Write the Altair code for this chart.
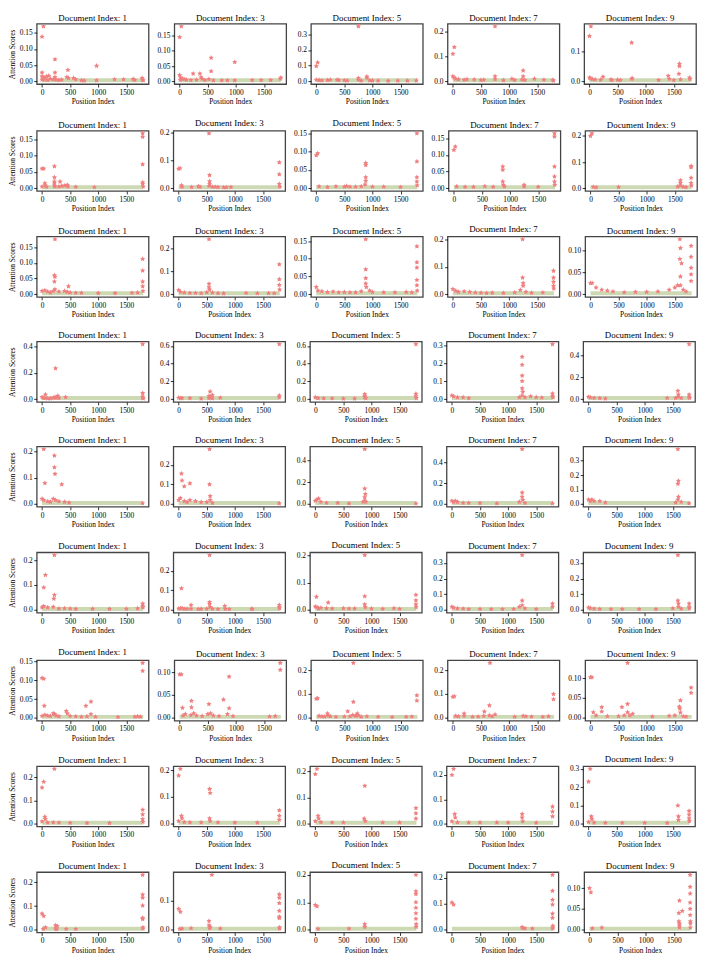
import altair as alt
import pandas as pd

FONT = "Liberation Serif"
DOC_IDS = [1, 3, 5, 7, 9]
X_TICKS = [0, 500, 1000, 1500]
X_DOMAIN = [-95, 1895]
BAND_X = [0, 1800]
RED = "#f08080"
GREEN = "#cdd9b3"

# ---- row 1 ----
R1C1 = [(0, .138), (25, .17), (0, .027), (230, .068), (230, .027), (460, .035), (970, .048), (230, .013), (0, .015),
        (20, .012), (50, .01), (80, .015), (120, .017), (150, .008), (200, .006), (300, .004), (350, .005), (440, .013),
        (470, .01), (560, .01), (600, .006), (700, .003), (750, .002), (970, .003), (1290, .006), (1450, .006),
        (1620, .007), (1650, .004), (1780, .01), (1790, .005), (1800, .003), (0, .005), (40, .005), (100, .004), (250, .005)]
R1C2 = [(0, .145), (30, .18), (560, .077), (560, .033), (980, .063), (240, .025), (360, .025), (380, .013), (0, .02),
        (20, .012), (50, .008), (80, .007), (120, .005), (200, .004), (300, .005), (400, .008), (450, .004), (520, .007),
        (600, .003), (750, .003), (850, .003), (980, .003), (1290, .004), (1450, .004), (1620, .004), (1790, .008),
        (1800, .012), (10, .005)]
R1C3 = [(0, .097), (25, .12), (750, .35), (900, .03), (900, .022), (750, .02), (0, .01), (50, .008), (100, .006),
        (200, .008), (250, .01), (370, .01), (400, .007), (500, .006), (550, .005), (750, .01), (800, .005), (1000, .005),
        (1100, .004), (1280, .003), (1450, .004), (1620, .004), (1780, .005), (950, .006)]
R1C4 = [(0, .11), (25, .137), (750, .22), (750, .02), (1250, .043), (1250, .02), (0, .02), (20, .015), (50, .01),
        (100, .008), (200, .006), (250, .008), (380, .007), (500, .005), (550, .006), (750, .008), (900, .004),
        (1050, .01), (1100, .005), (1230, .007), (1280, .005), (1450, .01), (1620, .006), (1780, .005), (1790, .003)]
R1C5 = [(0, .15), (25, .182), (750, .128), (1600, .058), (1600, .05), (1590, .025), (1400, .018), (240, .015),
        (0, .012), (20, .01), (50, .007), (100, .006), (200, .005), (380, .006), (400, .004), (500, .005), (550, .004),
        (750, .008), (760, .01), (1230, .004), (1420, .008), (1500, .004), (1620, .006), (1780, .012), (1790, .007)]
# ---- row 2 ----
R2C1 = [(0, .06), (30, .06), (220, .067), (220, .033), (220, .02), (220, .015), (320, .02), (50, .015), (60, .008),
        (0, .005), (80, .004), (220, .008), (300, .005), (350, .007), (400, .008), (450, .01), (460, .005), (600, .004),
        (930, .003), (1790, .168), (1790, .157), (1790, .073), (1790, .018), (1790, .013), (1800, .005), (230, .005)]
R2C2 = [(0, .07), (25, .072), (540, .198), (550, .047), (550, .025), (550, .015), (540, .008), (50, .01), (60, .005),
        (230, .004), (350, .007), (380, .005), (600, .005), (650, .005), (700, .004), (800, .003), (850, .003),
        (930, .004), (1790, .093), (1790, .05), (1790, .015), (1800, .005)]
R2C3 = [(0, .09), (25, .095), (880, .069), (880, .063), (880, .03), (880, .02), (870, .01), (1790, .15), (1790, .073),
        (1790, .03), (1790, .018), (1795, .008), (50, .005), (200, .003), (350, .005), (500, .004), (540, .006),
        (600, .004), (700, .004), (800, .005), (1000, .004), (1200, .004), (1500, .003)]
R2C4 = [(0, .115), (25, .125), (870, .065), (870, .055), (870, .02), (880, .01), (1790, .165), (1790, .155),
        (1790, .065), (1790, .035), (1790, .02), (1795, .01), (50, .005), (200, .004), (350, .004), (550, .006),
        (700, .004), (900, .005), (1250, .005), (1250, .01), (1500, .004)]
R2C5 = [(0, .2), (25, .21), (1600, .03), (1600, .02), (1600, .01), (1790, .085), (1790, .08), (1790, .04), (1790, .02),
        (1795, .01), (50, .005), (100, .003), (500, .004), (1550, .006), (1650, .005), (1700, .004)]
# ---- row 3 ----
R3C1 = [(230, .175), (220, .06), (230, .055), (220, .04), (230, .015), (470, .025), (1790, .112), (1790, .075),
        (1790, .04), (1790, .025), (1795, .01), (0, .01), (50, .012), (100, .008), (150, .005), (200, .01), (300, .008),
        (400, .01), (450, .007), (500, .005), (600, .004), (700, .004), (1000, .003), (1300, .003), (1600, .004), (1700, .005)]
R3C2 = [(540, .24), (540, .045), (540, .03), (550, .02), (1790, .13), (1790, .065), (1790, .04), (1795, .02), (0, .018),
        (30, .01), (100, .007), (200, .005), (300, .005), (400, .004), (500, .008), (600, .007), (700, .004), (800, .003),
        (1200, .005), (1400, .004), (1600, .004), (1700, .004)]
R3C3 = [(880, .155), (880, .07), (880, .045), (880, .03), (890, .02), (1790, .135), (1790, .09), (1790, .075),
        (1790, .04), (1790, .025), (1795, .01), (0, .02), (30, .01), (100, .008), (200, .006), (300, .007), (400, .005),
        (500, .006), (600, .005), (700, .005), (800, .008), (950, .01), (1000, .006), (1200, .005), (1400, .005),
        (1600, .006), (1700, .005)]
R3C4 = [(1240, .2), (1240, .06), (1250, .04), (1250, .03), (1790, .085), (1790, .06), (1790, .045), (1790, .03),
        (1795, .02), (0, .018), (50, .012), (100, .008), (200, .01), (300, .008), (400, .006), (500, .005), (600, .004),
        (700, .005), (900, .004), (1100, .006), (1200, .015), (1300, .008), (1400, .005), (1600, .006)]
R3C5 = [(1590, .125), (1600, .105), (1590, .08), (1620, .07), (1600, .04), (1790, .11), (1790, .085), (1790, .06),
        (1790, .045), (1790, .03), (0, .025), (30, .025), (100, .015), (200, .01), (300, .008), (400, .006), (600, .004),
        (800, .005), (1000, .005), (1200, .006), (1400, .01), (1500, .015), (1550, .02), (1600, .02), (1650, .01), (1700, .006)]
# ---- row 4 ----
R4C1 = [(1790, .42), (240, .235), (1790, .045), (1790, .02), (1795, .01), (60, .035), (280, .025), (420, .015),
        (0, .015), (20, .01), (50, .008), (100, .005), (150, .005), (200, .01), (230, .015), (250, .01), (300, .008), (1800, .005)]
R4C2 = [(1790, .62), (560, .085), (600, .045), (540, .035), (560, .02), (740, .015), (1790, .04), (1790, .02), (0, .015),
        (30, .01), (60, .01), (200, .01), (400, .005), (540, .01), (600, .008)]
R4C3 = [(1790, .62), (880, .055), (880, .035), (880, .02), (1790, .06), (1790, .03), (0, .02), (50, .01), (150, .008),
        (300, .008), (500, .005), (700, .006), (900, .01), (1800, .01)]
R4C4 = [(1790, .305), (1250, .235), (1250, .19), (1250, .13), (1250, .1), (1250, .06), (1260, .04), (1250, .02),
        (1400, .015), (1790, .03), (1790, .015), (0, .02), (30, .015), (100, .01), (200, .01), (300, .005), (1200, .01),
        (1300, .01), (1500, .01), (1600, .008), (1800, .01)]
R4C5 = [(1790, .5), (1590, .075), (1600, .04), (1590, .02), (1790, .04), (1790, .02), (0, .02), (30, .015), (100, .01),
        (200, .008), (300, .005), (1400, .01), (1550, .01), (1650, .01), (1800, .01)]
# ---- row 5 ----
R5C1 = [(30, .21), (220, .185), (220, .14), (230, .115), (50, .08), (350, .075), (0, .02), (30, .015), (100, .01),
        (150, .008), (200, .02), (240, .015), (300, .01), (400, .008), (480, .005), (1790, .003)]
R5C2 = [(550, .28), (50, .155), (60, .12), (200, .105), (100, .09), (550, .1), (560, .04), (0, .02), (30, .03),
        (100, .015), (150, .01), (200, .02), (300, .015), (400, .01), (500, .01), (560, .02), (600, .005), (1790, .003)]
R5C3 = [(880, .5), (880, .14), (890, .09), (880, .06), (880, .03), (0, .03), (30, .04), (60, .05), (100, .02),
        (200, .01), (400, .01), (600, .005), (850, .02), (900, .02), (1790, .005)]
R5C4 = [(1250, .53), (1250, .11), (1250, .07), (1260, .04), (0, .03), (30, .02), (60, .03), (100, .02), (200, .01),
        (300, .01), (500, .008), (800, .005), (1200, .02), (1300, .01), (1790, .005)]
R5C5 = [(1590, .38), (1600, .16), (1590, .14), (1600, .05), (1590, .03), (0, .03), (30, .02), (60, .03), (100, .02),
        (200, .02), (300, .01), (1550, .01), (1650, .015), (1790, .005)]
# ---- row 6 ----
R6C1 = [(220, .22), (60, .14), (30, .09), (220, .06), (210, .045), (0, .01), (30, .015), (100, .01), (200, .012),
        (300, .005), (400, .006), (500, .005), (600, .004), (900, .004), (1200, .004), (1500, .004), (1700, .006),
        (1790, .025), (1790, .015), (1795, .01)]
R6C2 = [(550, .28), (50, .11), (220, .025), (550, .04), (550, .03), (560, .015), (820, .02), (0, .007), (30, .008),
        (60, .01), (100, .005), (150, .006), (220, .006), (350, .004), (400, .005), (500, .006), (600, .006), (700, .004),
        (830, .005), (900, .004), (1300, .006), (1310, .004), (1790, .025), (1790, .015), (1795, .008)]
R6C3 = [(880, .2), (880, .05), (20, .048), (230, .027), (0, .012), (30, .01), (60, .005), (100, .008), (200, .006),
        (300, .005), (500, .006), (600, .005), (700, .005), (880, .02), (890, .01), (1000, .005), (1200, .004),
        (1400, .006), (1500, .004), (1790, .055), (1790, .035), (1790, .02), (1795, .01)]
R6C4 = [(1250, .35), (1250, .06), (1250, .03), (0, .02), (30, .015), (100, .01), (200, .008), (300, .005), (500, .006),
        (700, .005), (900, .005), (1100, .006), (1200, .02), (1300, .01), (1500, .005), (1790, .04), (1790, .02)]
R6C5 = [(1590, .35), (1590, .06), (1600, .04), (1600, .02), (0, .015), (30, .012), (100, .008), (200, .006),
        (400, .005), (600, .005), (900, .005), (1200, .005), (1500, .01), (1650, .008), (1790, .04), (1790, .02), (1795, .01)]
# ---- row 7 ----
R7C1 = [(0, .106), (30, .104), (40, .032), (780, .032), (870, .043), (870, .01), (430, .018), (450, .012), (1790, .146),
        (1790, .125), (0, .005), (50, .008), (100, .006), (150, .005), (200, .012), (220, .01), (250, .006), (300, .004),
        (500, .005), (600, .004), (700, .003), (800, .004), (950, .003), (1350, .002), (1650, .003), (1700, .004), (1750, .003)]
R7C2 = [(0, .095), (30, .095), (50, .022), (210, .037), (210, .023), (520, .03), (780, .04), (880, .09), (880, .021),
        (1790, .12), (1790, .105), (60, .005), (100, .008), (200, .006), (250, .01), (300, .005), (400, .004), (500, .008),
        (550, .01), (600, .005), (700, .004), (850, .008), (950, .004), (1600, .003), (1700, .004)]
R7C3 = [(0, .08), (25, .082), (660, .23), (660, .067), (560, .027), (730, .018), (200, .018), (50, .008), (100, .006),
        (150, .005), (210, .01), (250, .006), (350, .004), (500, .005), (600, .006), (650, .012), (700, .008), (750, .01),
        (800, .004), (900, .006), (1100, .004), (1350, .003), (1600, .004), (1700, .005), (1790, .094), (1790, .072)]
R7C4 = [(0, .088), (25, .09), (660, .23), (650, .052), (560, .026), (200, .018), (750, .014), (50, .008), (100, .006),
        (200, .008), (350, .004), (450, .005), (550, .008), (650, .01), (700, .006), (1100, .004), (1250, .008),
        (1300, .006), (1400, .005), (1600, .004), (1700, .006), (1790, .1), (1790, .078)]
R7C5 = [(0, .102), (25, .102), (660, .138), (50, .014), (200, .027), (200, .016), (560, .027), (660, .035), (660, .014),
        (750, .01), (1580, .028), (1600, .044), (1590, .023), (1600, .013), (1790, .076), (1790, .063), (100, .006),
        (300, .004), (500, .004), (600, .006), (700, .006), (1100, .003), (1400, .005), (1500, .006), (1650, .004), (1700, .003)]
# ---- row 8 ----
R8C1 = [(0, .155), (30, .18), (220, .235), (50, .03), (60, .02), (1790, .06), (1790, .04), (1790, .02), (0, .01),
        (100, .005), (200, .006), (300, .005), (500, .004), (800, .003), (1200, .003), (1795, .008)]
R8C2 = [(0, .18), (30, .205), (550, .13), (560, .115), (50, .03), (60, .02), (550, .02), (560, .01), (1790, .05),
        (1790, .03), (1790, .015), (0, .01), (100, .006), (200, .005), (400, .005), (700, .005), (1000, .004), (1400, .004)]
R8C3 = [(0, .19), (30, .21), (880, .145), (50, .03), (60, .02), (870, .02), (890, .01), (1790, .06), (1790, .04),
        (1790, .02), (0, .01), (100, .006), (300, .005), (500, .005), (1200, .005), (1500, .005)]
R8C4 = [(0, .2), (30, .225), (50, .04), (60, .025), (1250, .04), (1250, .025), (1260, .01), (1790, .07), (1790, .05),
        (1790, .03), (0, .01), (100, .006), (300, .005), (500, .005), (800, .005), (1000, .005), (1500, .004)]
R8C5 = [(0, .23), (30, .3), (50, .04), (60, .025), (1590, .1), (1600, .04), (1600, .02), (1790, .07), (1790, .05),
        (1790, .03), (1795, .015), (0, .01), (100, .006), (300, .005), (600, .005), (1000, .005), (1400, .004)]
# ---- row 9 ----
R9C1 = [(0, .068), (30, .058), (1790, .232), (1790, .148), (1790, .135), (1790, .102), (1790, .05), (1790, .045),
        (1795, .01), (1795, .005), (20, .003), (60, .01), (240, .018), (270, .015), (240, .005), (260, .002), (430, .003), (600, .003)]
R9C2 = [(0, .072), (30, .062), (590, .19), (540, .03), (540, .015), (560, .01), (550, .005), (740, .004), (220, .005),
        (20, .003), (60, .004), (1790, .122), (1790, .11), (1790, .092), (1790, .065), (1790, .045), (1790, .04),
        (1795, .008), (1795, .004)]
R9C3 = [(0, .09), (30, .085), (880, .02), (880, .01), (1790, .2), (1790, .14), (1790, .13), (1790, .1), (1790, .08),
        (1790, .06), (1790, .04), (1795, .02), (1795, .01), (50, .003), (600, .004)]
R9C4 = [(0, .105), (30, .097), (1250, .01), (1260, .006), (1300, .005), (1430, .004), (1790, .212), (1790, .15),
        (1790, .115), (1790, .097), (1790, .062), (1790, .046), (1795, .015), (1795, .008), (1795, .004)]
R9C5 = [(0, .1), (25, .09), (50, .003), (220, .005), (1590, .04), (1600, .07), (1650, .045), (1590, .02), (1600, .015),
        (1600, .01), (1600, .005), (1790, .132), (1790, .103), (1790, .087), (1790, .065), (1790, .05), (1790, .035),
        (1795, .02), (1795, .015), (1795, .005)]

# y tick labels per panel, row by row
T05 = [0, 0.05, 0.1, 0.15]
YT_R1 = [T05, T05, [0, .1, .2, .3], [0, .1, .2], [0, .1]]
YT_R2 = [T05, [0, .1, .2], T05, T05, [0, .1, .2]]
YT_R3 = [T05, [0, .1, .2], T05, [0, .1, .2], [0, .05, .1]]
YT_R4 = [[0, .2, .4], [0, .2, .4, .6], [0, .2, .4, .6], [0, .1, .2, .3], [0, .2, .4]]
YT_R5 = [[0, .1, .2], [0, .1, .2], [0, .2, .4], [0, .2, .4], [0, .1, .2, .3, .4]]
YT_R6 = [[0, .1, .2], [0, .1, .2], [0, .1, .2], [0, .1, .2, .3], [0, .1, .2, .3]]
YT_R7 = [T05, [0, .05, .1], [0, .1, .2], [0, .1, .2], [0, .05, .1]]
YT_R8 = [[0, .1, .2], [0, .1, .2], [0, .1, .2], [0, .1, .2], [0, .1, .2, .3]]
YT_R9 = [[0, .1, .2], [0, .1], [0, .1, .2], [0, .1, .2], [0, .05, .1]]

ROWS = [
    ([R1C1, R1C2, R1C3, R1C4, R1C5], YT_R1),
    ([R2C1, R2C2, R2C3, R2C4, R2C5], YT_R2),
    ([R3C1, R3C2, R3C3, R3C4, R3C5], YT_R3),
    ([R4C1, R4C2, R4C3, R4C4, R4C5], YT_R4),
    ([R5C1, R5C2, R5C3, R5C4, R5C5], YT_R5),
    ([R6C1, R6C2, R6C3, R6C4, R6C5], YT_R6),
    ([R7C1, R7C2, R7C3, R7C4, R7C5], YT_R7),
    ([R8C1, R8C2, R8C3, R8C4, R8C5], YT_R8),
    ([R9C1, R9C2, R9C3, R9C4, R9C5], YT_R9),
]

# plump five-pointed star (inner radius 0.5)
STAR = ("M0,-1L0.294,-0.405L0.951,-0.309L0.476,0.155L0.588,0.809L0,0.5"
        "L-0.588,0.809L-0.476,0.155L-0.951,-0.309L-0.294,-0.405Z")

W, H = 113, 61


def panel(points, ticks, doc, first):
    df = pd.DataFrame(points, columns=["pos", "score"])
    ymax = float(df["score"].max())
    ymin = 0.0
    rng = ymax - ymin
    ydom = [ymin - 0.05 * rng, ymax + 0.05 * rng]
    two = any(abs(t * 10 - round(t * 10)) > 1e-9 for t in ticks)
    fmt = ".2f" if two else ".1f"
    xscale = alt.Scale(domain=X_DOMAIN, nice=False, zero=False)
    yscale = alt.Scale(domain=ydom, nice=False, zero=False)
    xaxis = alt.Axis(values=X_TICKS, title="Position Index", format="d", labelFlush=False,
                     labelPadding=1.5, titlePadding=2, tickSize=3)
    yaxis = alt.Axis(values=ticks, format=fmt, title="Attention Scores" if first else None,
                     labelPadding=1.5, titlePadding=3, tickSize=3, minExtent=17, maxExtent=17,
                     labelFlush=False)
    band_df = pd.DataFrame({"pos": [BAND_X[0]], "pos2": [BAND_X[1]], "score": [0.0]})
    band = alt.Chart(band_df).mark_rule(color=GREEN, strokeWidth=4, yOffset=-1).encode(
        x=alt.X("pos:Q", scale=xscale, axis=xaxis),
        x2="pos2:Q",
        y=alt.Y("score:Q", scale=yscale, axis=yaxis),
    )
    pts = alt.Chart(df).mark_point(shape=STAR, filled=True, size=30, color=RED, opacity=1).encode(
        x=alt.X("pos:Q", scale=xscale, axis=xaxis),
        y=alt.Y("score:Q", scale=yscale, axis=yaxis),
    )
    return alt.layer(band, pts).properties(
        width=W, height=H,
        title=alt.TitleParams(f"Document Index: {doc}", fontSize=9, font=FONT, fontWeight="normal",
                              offset=1, frame="group", anchor="middle", color="black"),
    )


rows = []
for pts_list, ticks_list in ROWS:
    rows.append(alt.hconcat(*[panel(p, t, d, i == 0)
                              for i, (p, t, d) in enumerate(zip(pts_list, ticks_list, DOC_IDS))],
                            spacing=6))

chart = alt.vconcat(*rows, spacing=11, padding=0).configure_view(
    stroke="#444444", strokeWidth=1.3
).configure_axis(
    grid=False, domain=False, tickColor="black", tickWidth=0.8,
    labelFont=FONT, labelFontSize=7.5, labelColor="black",
    titleFont=FONT, titleFontSize=7.5, titleFontWeight="normal", titleColor="black",
)

chart.save("out.html", embed_options={"renderer": "svg", "actions": False})
